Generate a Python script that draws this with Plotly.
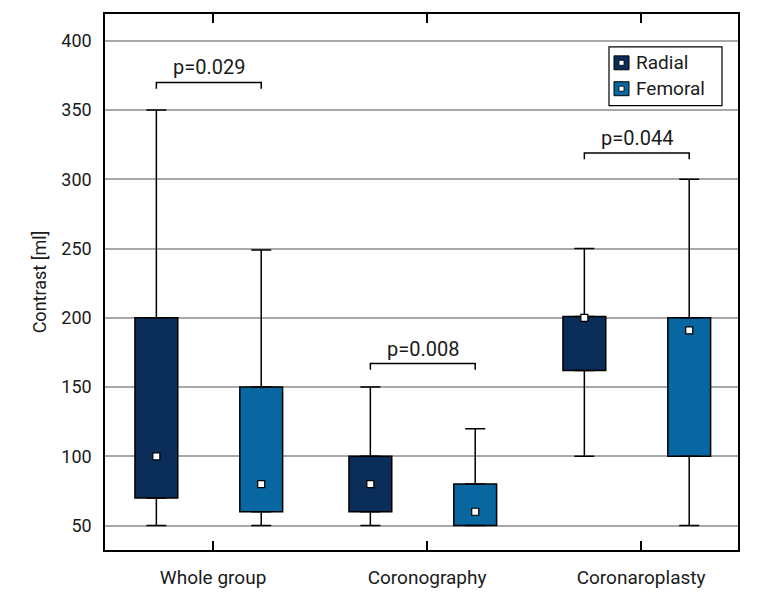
import plotly.graph_objects as go

# ---------------- data ----------------
categories = ["Whole group", "Coronography", "Coronaroplasty"]
series_names = ["Radial", "Femoral"]

radial_min = [50, 50, 100]
radial_q1 = [70, 60, 162]
radial_median = [100, 80, 200]
radial_q3 = [200, 100, 201]
radial_max = [350, 150, 250]

femoral_min = [50, 50, 50]
femoral_q1 = [60, 50, 100]
femoral_median = [80, 60, 191]
femoral_q3 = [150, 80, 200]
femoral_max = [249, 120, 300]

p_labels = ["p=0.029", "p=0.008", "p=0.044"]
p_levels = [370, 167, 319]

y_ticks = [50, 100, 150, 200, 250, 300, 350, 400]

# ---------------- style ----------------
FONT = "Roboto, Liberation Sans, sans-serif"
TXT = "#1a1a1a"
colors = {"Radial": "#0b2d5a", "Femoral": "#0866a0"}
offsets = {"Radial": -0.265, "Femoral": 0.225}
BOX_W = 0.2

series = {
    "Radial": (radial_min, radial_q1, radial_median, radial_q3, radial_max),
    "Femoral": (femoral_min, femoral_q1, femoral_median, femoral_q3, femoral_max),
}

fig = go.Figure()
idx = list(range(len(categories)))

for name in series_names:
    lo, q1, med, q3, hi = series[name]
    xs = [i + offsets[name] for i in idx]
    # box body
    fig.add_trace(go.Bar(
        x=xs, y=[b - a for a, b in zip(q1, q3)], base=q1, width=BOX_W,
        marker=dict(color=colors[name], line=dict(color="black", width=1.5)),
        showlegend=False, name=name, hoverinfo="skip",
    ))
    # upper whisker
    fig.add_trace(go.Scatter(
        x=xs, y=q3, mode="markers",
        marker=dict(size=1, color="rgba(0,0,0,0)"),
        error_y=dict(type="data", symmetric=False,
                     array=[h - t for h, t in zip(hi, q3)],
                     arrayminus=[0] * len(q3),
                     color="black", thickness=1.5, width=10),
        showlegend=False, hoverinfo="skip",
    ))
    # lower whisker
    fig.add_trace(go.Scatter(
        x=xs, y=q1, mode="markers",
        marker=dict(size=1, color="rgba(0,0,0,0)"),
        error_y=dict(type="data", symmetric=False,
                     array=[0] * len(q1),
                     arrayminus=[a - l for a, l in zip(q1, lo)],
                     color="black", thickness=1.5, width=10),
        showlegend=False, hoverinfo="skip",
    ))
    # median marker
    fig.add_trace(go.Scatter(
        x=xs, y=med, mode="markers",
        marker=dict(symbol="square", size=7, color="white",
                    line=dict(color="black", width=1.2)),
        showlegend=False, hoverinfo="skip",
    ))

# significance brackets
TIP = 4.5
for i, (lab, lvl) in enumerate(zip(p_labels, p_levels)):
    x0 = i + offsets["Radial"]
    x1 = i + offsets["Femoral"]
    fig.add_shape(type="path",
                  path=f"M {x0},{lvl - TIP} L {x0},{lvl} L {x1},{lvl} L {x1},{lvl - TIP}",
                  line=dict(color="black", width=1.5), xref="x", yref="y")
    fig.add_annotation(x=(x0 + x1) / 2, y=lvl, text=lab, showarrow=False,
                       yanchor="bottom", yshift=1,
                       font=dict(family=FONT, size=20, color=TXT))

# page offset of the figure inside the html body
OFF = 8
# plot area in page pixels
L, R, T, B = 105, 738, 12, 550
W, H = R - L, B - T
px = lambda x: (x - L) / W
py = lambda y: (B - y) / H

fig.add_shape(type="rect", xref="paper", yref="paper",
              x0=px(609), x1=px(722), y0=py(104), y1=py(45),
              line=dict(color="black", width=1.2), fillcolor="white")
for k, name in enumerate(series_names):
    cy = 61 + k * 26
    fig.add_shape(type="rect", xref="paper", yref="paper",
                  x0=px(614), x1=px(629), y0=py(cy + 7), y1=py(cy - 7),
                  line=dict(color="black", width=1), fillcolor=colors[name])
    fig.add_shape(type="rect", xref="paper", yref="paper",
                  x0=px(619), x1=px(624), y0=py(cy + 2.5), y1=py(cy - 2.5),
                  line=dict(color="black", width=0.8), fillcolor="white")
    fig.add_annotation(x=px(634), y=py(cy), xref="paper", yref="paper",
                       text=name, showarrow=False, xanchor="left", yanchor="middle",
                       font=dict(family=FONT, size=19, color=TXT))

fig.update_layout(
    width=768, height=600,
    margin=dict(l=L - OFF, r=768 - (R - OFF), t=T - OFF, b=600 - (B - OFF)),
    paper_bgcolor="white", plot_bgcolor="white",
    font=dict(family=FONT, size=18, color=TXT),
    barmode="overlay", showlegend=False,
)
fig.update_xaxes(
    range=[-0.505, 2.453], tickvals=idx, ticktext=categories,
    ticks="inside", ticklen=9, tickwidth=1.5, tickcolor="black",
    showline=True, linecolor="black", linewidth=1.5, mirror="ticks",
    showgrid=False, zeroline=False, ticklabelstandoff=9,
    tickfont=dict(family=FONT, size=19, color=TXT),
)
fig.update_yaxes(
    range=[32.4, 419.4], tickvals=y_ticks,
    showline=True, linecolor="black", linewidth=1.5, mirror=True,
    showgrid=True, gridcolor="#a8a8a8", gridwidth=1.5, zeroline=False,
    ticks="", ticklabelstandoff=8,
    tickfont=dict(family=FONT, size=18, color=TXT),
    title=dict(text="Contrast [ml]", standoff=10,
               font=dict(family=FONT, size=18, color=TXT)),
)

fig.write_html("out.html")
